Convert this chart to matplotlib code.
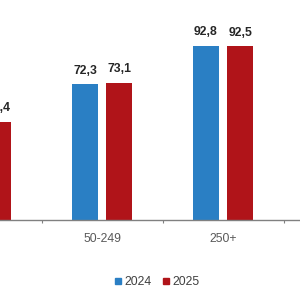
import matplotlib.pyplot as plt
import numpy as np
from matplotlib.lines import Line2D

plt.rcParams['font.family'] = ['Liberation Sans', 'DejaVu Sans']

categories = ['10-49', '50-249', '250+']
vals_2024 = [50.0, 72.3, 92.8]
vals_2025 = [52.4, 73.1, 92.5]
years = ['2024', '2025']
colors = ['#2a7fc4', '#b01419']

fig = plt.figure(figsize=(3, 3), dpi=100)
ax = fig.add_axes([0, 80/300, 1, 220/300])

x = np.arange(len(categories))
w = 0.215
b1 = ax.bar(x - 0.145, vals_2024, w, color=colors[0])
b2 = ax.bar(x + 0.14, vals_2025, w, color=colors[1])

for bars, vals in [(b1, vals_2024), (b2, vals_2025)]:
    for r, v in zip(bars, vals):
        ax.text(r.get_x() + r.get_width() / 2, v + 4, f'{v:.1f}'.replace('.', ','),
                ha='center', va='bottom', fontsize=8.8, fontweight='bold', color='#262626')

ax.set_xticks(x)
ax.set_xticklabels(categories, fontsize=8.8, color='#595959')
ax.tick_params(axis='x', which='major', length=0, pad=9)
ax.set_xticks([0.5, 1.5, 2.5], minor=True)
ax.tick_params(axis='x', which='minor', length=2.5, color='#808080', width=0.8)
ax.set_yticks([])
# limits after the ticks, set_xticks widens the view otherwise
ax.set_xlim(0.153, 2.632)
ax.set_ylim(0, 117.2)
for s in ['top', 'right', 'left']:
    ax.spines[s].set_visible(False)
ax.spines['bottom'].set_color('#808080')
ax.spines['bottom'].set_linewidth(1.0)

handles = [Line2D([], [], marker='s', linestyle='none', markersize=4, color=c) for c in colors]
fig.legend(handles, years, loc='center', bbox_to_anchor=(157/300, 1 - 282/300), ncol=2,
           frameon=False, fontsize=8.8, handlelength=0.6, handletextpad=0.2, columnspacing=0.9,
           labelcolor='#404040')

fig.savefig('out.png', dpi=100)
